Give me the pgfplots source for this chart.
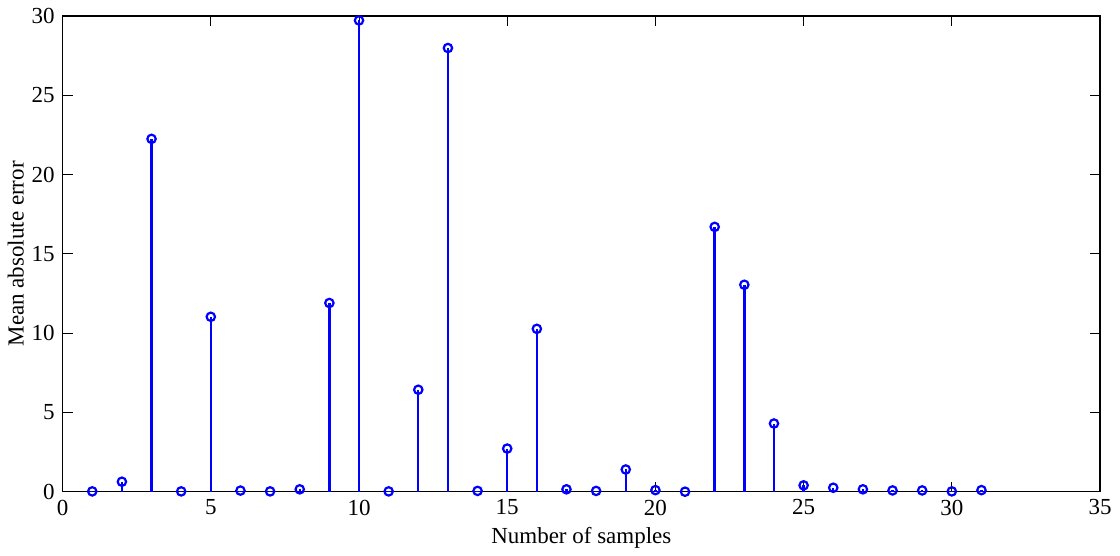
\documentclass[border=0pt]{standalone}
\usepackage{fontspec}
\setmainfont{Liberation Serif}
\usepackage{pgfplots}
\pgfplotsset{compat=1.18}
\begin{document}
\fontsize{11.5}{13}\selectfont
\begin{tikzpicture}
\begin{axis}[
  name=ax,
  scale only axis,
  width=519pt, height=238pt,
  xmin=0, xmax=35, ymin=0, ymax=30,
  xtick={0,5,...,35}, ytick={0,5,...,30},
  tick align=inside,
  major tick length=5pt,
  /pgf/number format/assume math mode=true,
  ticklabel style={font=\fontsize{11.5}{13}\selectfont},
  label style={font=\fontsize{11.5}{13}\selectfont},
  xlabel={Number of samples},
  ylabel={Mean absolute error},
  xlabel style={yshift=2pt},
  ylabel style={yshift=-4pt},
  axis line style={line width=0.6pt},
  tick style={black, line width=0.5pt},
  clip=false,
]
\addplot+[ycomb, blue, line width=1.2pt, mark=o, mark size=2.1pt,
  mark options={blue, line width=1.1pt}] coordinates {
(1,0.02) (2,0.63) (3,22.25) (4,0.02) (5,11.03) (6,0.07) (7,0.02) (8,0.15)
(9,11.9) (10,29.72) (11,0.02) (12,6.43) (13,27.98) (14,0.05) (15,2.72)
(16,10.27) (17,0.15) (18,0.05) (19,1.4) (20,0.1) (21,0.0) (22,16.7)
(23,13.05) (24,4.3) (25,0.4) (26,0.25) (27,0.15) (28,0.08) (29,0.08)
(30,0.02) (31,0.1)
};
\end{axis}
\path ([xshift=-31pt,yshift=-29pt]ax.south west) rectangle ([xshift=10pt,yshift=8pt]ax.north east);
\end{tikzpicture}
\end{document}
